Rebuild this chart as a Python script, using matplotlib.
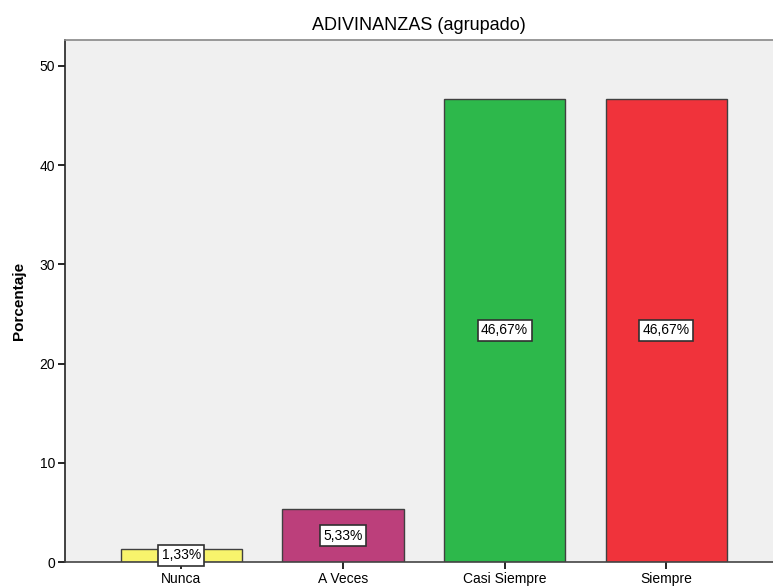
import matplotlib.pyplot as plt

categories = ['Nunca', 'A Veces', 'Casi Siempre', 'Siempre']
porcentajes = [1.33, 5.33, 46.67, 46.67]
etiquetas = ['1,33%', '5,33%', '46,67%', '46,67%']
colores = ['#F8F46C', '#BC3F7B', '#2DB84B', '#F0333B']

plt.rcParams['font.family'] = ['Liberation Sans', 'DejaVu Sans']

fig = plt.figure(figsize=(7.73, 5.86), dpi=100)
ax = fig.add_axes([65 / 773, 24 / 586, 1 - 65 / 773, 522 / 586])
ax.set_facecolor('#F0F0F0')

x = range(len(categories))
ax.bar(x, porcentajes, width=0.75, color=colores, edgecolor='#404040', linewidth=1)

# value labels in the middle of each bar
for i, (v, lab) in enumerate(zip(porcentajes, etiquetas)):
    ax.text(i, v / 2, lab, ha='center', va='center', fontsize=10,
            bbox=dict(boxstyle='square,pad=0.25', facecolor='white', edgecolor='#303030', linewidth=1.2))

ax.set_xlim(-0.72, 3.66)
ax.set_ylim(0, 52.6)
ax.set_xticks(list(x))
ax.set_xticklabels(categories, fontsize=10)
ax.set_yticks([0, 10, 20, 30, 40, 50])
ax.tick_params(axis='y', labelsize=10, length=5, width=1.2, pad=2)
ax.tick_params(axis='x', length=5, width=1.2, pad=2)

ax.spines['right'].set_visible(False)
ax.spines['top'].set_color('#888888')
ax.spines['left'].set_color('#222222')
ax.spines['bottom'].set_color('#444444')
for s in ax.spines.values():
    s.set_linewidth(1.2)

ax.set_ylabel('Porcentaje', fontsize=11, fontweight='bold', labelpad=10)
ax.set_title('ADIVINANZAS (agrupado)', fontsize=13, pad=7)

fig.savefig('out.png', dpi=100)
